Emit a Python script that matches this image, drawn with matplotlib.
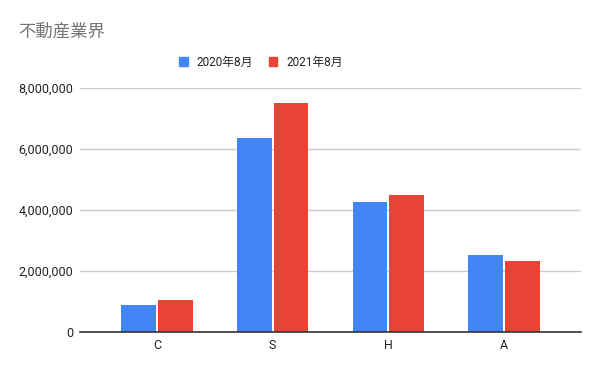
import matplotlib.pyplot as plt
import numpy as np
from matplotlib.ticker import FuncFormatter
from matplotlib.patches import Patch

plt.rcParams['font.family'] = ['Roboto', 'Noto Sans CJK JP', 'DejaVu Sans']

categories = ['C', 'S', 'H', 'A']
series_names = ['2020年8月', '2021年8月']
values_2020 = [895000, 6370000, 4270000, 2530000]
values_2021 = [1060000, 7520000, 4500000, 2340000]
colors = ['#4285F4', '#EA4335']

fig = plt.figure(figsize=(6.0, 3.71), dpi=100)
ax = fig.add_axes([0.1333, 0.1051, 0.8350, 0.6577])

x = np.arange(len(categories))
w = 0.30
gap = 0.009
ax.bar(x - w / 2 - gap, values_2020, width=w, color=colors[0], zorder=3)
ax.bar(x + w / 2 + gap, values_2021, width=w, color=colors[1], zorder=3)

ax.set_xlim(-0.664, 3.664)
ax.set_ylim(0, 8000000)
ax.set_yticks([0, 2000000, 4000000, 6000000, 8000000])
ax.yaxis.set_major_formatter(FuncFormatter(lambda v, p: f'{int(v):,}'))
ax.set_xticks(x)
ax.set_xticklabels(categories)

ax.grid(axis='y', color='#cccccc', linewidth=1, zorder=0)
for s in ['top', 'right', 'left']:
    ax.spines[s].set_visible(False)
ax.spines['bottom'].set_color('#333333')
ax.spines['bottom'].set_linewidth(1.2)
ax.spines['bottom'].set_zorder(4)
ax.tick_params(axis='both', length=0, labelsize=9, labelcolor='#222222')
ax.tick_params(axis='y', pad=5)
ax.tick_params(axis='x', pad=5)

fig.text(0.03, 0.914, '不動産業界', fontsize=12.5, color='#757575',
         family=['Noto Sans CJK JP'], va='center', ha='left')

handles = [Patch(color=c, label=n) for c, n in zip(colors, series_names)]
fig.legend(handles=handles, loc='center', bbox_to_anchor=(0.435, 0.833), ncol=2,
           frameon=False, fontsize=8.5, handlelength=0.75, handleheight=0.85,
           handletextpad=0.75, columnspacing=1.3, labelcolor='#222222')

fig.savefig('out.png', dpi=100)
